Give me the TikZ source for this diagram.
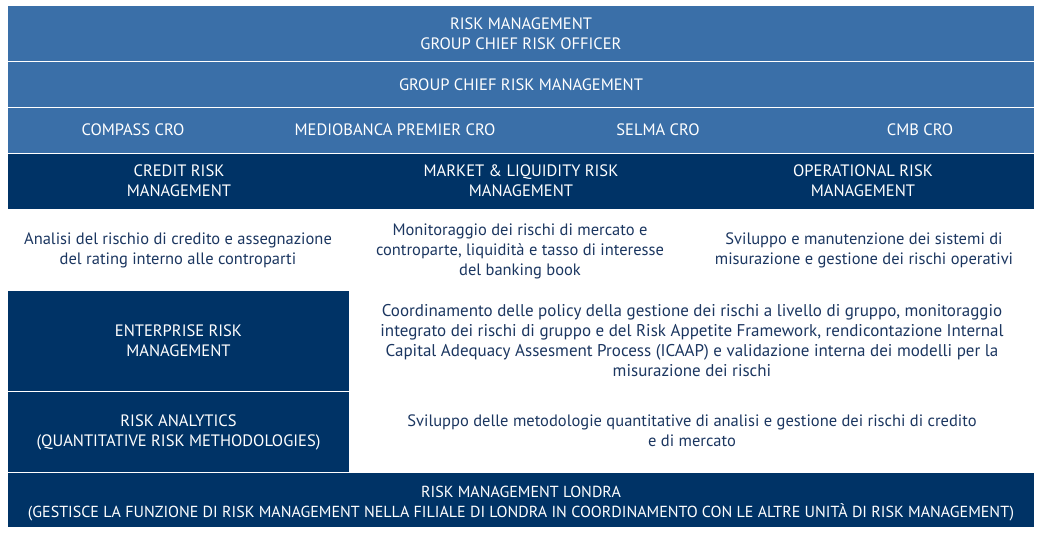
\documentclass[tikz,border=0pt]{standalone}
\usepackage{fontspec}
\setmainfont{PT Sans}
\definecolor{lightblue}{HTML}{3A6FA8}
\definecolor{navy}{HTML}{003366}
\definecolor{txt}{HTML}{1B3660}
\begin{document}
\begin{tikzpicture}[x=1pt,y=-1pt,
  box/.style={anchor=north west,inner sep=0pt,outer sep=0pt,text=white,align=center,
    font=\fontsize{16.5}{20}\selectfont},
  lbox/.style={box,fill=lightblue},
  dbox/.style={box,fill=navy},
  lbl/.style={inner sep=0pt,text=white,font=\fontsize{16.5}{20}\selectfont},
  desc/.style={inner sep=0pt,text=txt,align=center,font=\fontsize{16.5}{20}\selectfont}]
\useasboundingbox (0,0) rectangle (1043,534);
% top rows
\node[lbox,minimum width=1026pt,minimum height=55pt] (rm) at (8,6) {RISK MANAGEMENT\\GROUP CHIEF RISK OFFICER};
\node[lbox,minimum width=1026pt,minimum height=45pt] (gcrm) at (8,62) {GROUP CHIEF RISK MANAGEMENT};
\node[lbox,minimum width=1026pt,minimum height=45pt] (cro) at (8,108) {};
\node[lbl] (compass) at (133,130) {COMPASS CRO};
\node[lbl] (premier) at (395,130) {MEDIOBANCA PREMIER CRO};
\node[lbl] (selma) at (658,130) {SELMA CRO};
\node[lbl] (cmb) at (920,130) {CMB CRO};
% dark row
\node[dbox,minimum width=1026pt,minimum height=55pt] (dark) at (8,154) {};
\node[lbl,align=center] (credit) at (179,181) {CREDIT RISK\\MANAGEMENT};
\node[lbl,align=center] (market) at (521,181) {MARKET \& LIQUIDITY RISK\\MANAGEMENT};
\node[lbl,align=center] (oper) at (863,181) {OPERATIONAL RISK\\MANAGEMENT};
% descriptions
\node[desc] (dcredit) at (178,250) {Analisi del rischio di credito e assegnazione\\del rating interno alle controparti};
\node[desc] (dmarket) at (520,251) {Monitoraggio dei rischi di mercato e\\controparte, liquidità e tasso di interesse\\del banking book};
\node[desc] (doper) at (864,250) {Sviluppo e manutenzione dei sistemi di\\misurazione e gestione dei rischi operativi};
% enterprise
\node[dbox,minimum width=341pt,minimum height=100pt] (erm) at (8,291) {ENTERPRISE RISK\\MANAGEMENT};
\node[desc,font=\fontsize{17}{20}\selectfont] (derm) at (692,341) {Coordinamento delle policy della gestione dei rischi a livello di gruppo, monitoraggio\\integrato dei rischi di gruppo e del Risk Appetite Framework, rendicontazione Internal\\Capital Adequacy Assesment Process (ICAAP) e validazione interna dei modelli per la\\misurazione dei rischi};
\node[dbox,minimum width=341pt,minimum height=80pt] (ra) at (8,392) {RISK ANALYTICS\\(QUANTITATIVE RISK METHODOLOGIES)};
\node[desc] (dra) at (692,431) {Sviluppo delle metodologie quantitative di analisi e gestione dei rischi di credito\\e di mercato};
\node[dbox,minimum width=1026pt,minimum height=54pt,font=\fontsize{16}{20}\selectfont] (lon) at (8,473) {\rule{0pt}{18pt}RISK MANAGEMENT LONDRA\\(GESTISCE LA FUNZIONE DI RISK MANAGEMENT NELLA FILIALE DI LONDRA IN COORDINAMENTO CON LE ALTRE UNITÀ DI RISK MANAGEMENT)};
\end{tikzpicture}
\end{document}
